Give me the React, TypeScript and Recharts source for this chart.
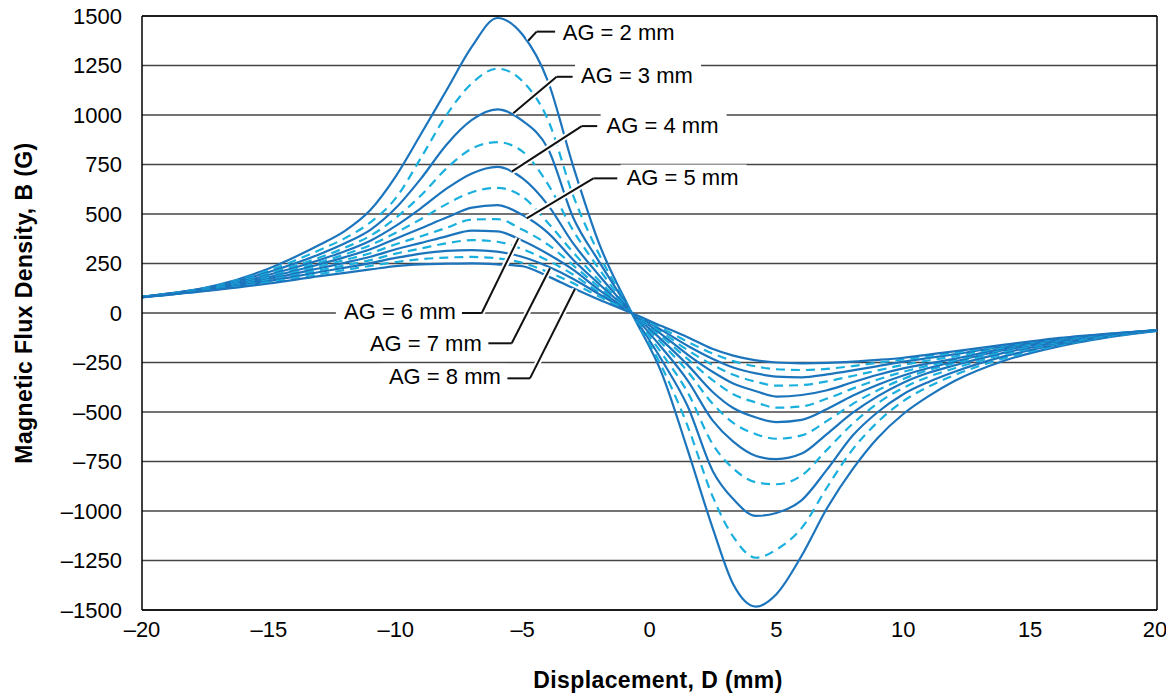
import { LineChart, Line, XAxis, YAxis, CartesianGrid, ReferenceLine, ReferenceDot } from "recharts";

// displacement samples (mm)
const displacement = [-20, -17, -15, -13, -12, -11, -10, -9, -8, -7, -6, -5, -4, -3, -2, -0.7, 0.5, 1.5, 2.5, 3.3, 4.2, 5, 6, 7, 8, 9, 10, 11, 12, 14, 16, 18, 20];

// flux density (G) for each air gap
const ag20 = [82, 142, 225, 345, 415, 520, 690, 905, 1125, 1345, 1490, 1405, 1170, 738, 355, 0, -310, -690, -1090, -1370, -1483, -1420, -1225, -985, -790, -630, -510, -420, -345, -240, -172, -124, -90];
const ag25 = [82, 140, 215, 318, 378, 458, 580, 785, 1000, 1160, 1234, 1170, 975, 590, 300, 0, -276, -570, -930, -1130, -1236, -1195, -1085, -880, -690, -550, -445, -372, -315, -228, -166, -121, -89];
const ag30 = [82, 138, 207, 297, 352, 420, 530, 680, 850, 975, 1028, 970, 830, 480, 262, 0, -241, -470, -800, -940, -1025, -1010, -945, -790, -620, -500, -410, -348, -298, -218, -161, -119, -89];
const ag35 = [81, 136, 200, 280, 330, 390, 480, 595, 730, 830, 863, 815, 650, 415, 225, 0, -207, -400, -665, -785, -855, -865, -820, -690, -560, -455, -378, -322, -280, -208, -156, -117, -88];
const ag40 = [81, 134, 193, 268, 312, 365, 440, 530, 628, 705, 738, 680, 545, 350, 192, 0, -178, -340, -545, -650, -722, -738, -710, -610, -505, -420, -352, -302, -265, -200, -152, -115, -88];
const ag45 = [81, 132, 187, 256, 296, 343, 405, 475, 550, 610, 632, 587, 455, 305, 165, 0, -155, -295, -460, -555, -612, -635, -618, -545, -460, -390, -333, -288, -254, -193, -148, -114, -88];
const ag50 = [81, 130, 181, 246, 282, 322, 375, 428, 482, 532, 545, 495, 405, 268, 148, 0, -138, -262, -400, -480, -528, -551, -540, -485, -418, -362, -316, -278, -246, -187, -145, -112, -88];
const ag55 = [80, 128, 176, 236, 268, 302, 347, 388, 430, 472, 474, 420, 345, 240, 132, 0, -122, -232, -340, -410, -452, -478, -472, -432, -382, -336, -297, -266, -238, -182, -141, -111, -87];
const ag60 = [80, 126, 171, 226, 254, 284, 322, 354, 387, 416, 412, 365, 298, 218, 118, 0, -110, -210, -298, -356, -395, -422, -414, -390, -350, -312, -280, -255, -232, -177, -139, -110, -87];
const ag65 = [80, 124, 166, 216, 241, 267, 300, 326, 352, 368, 360, 322, 265, 193, 105, 0, -98, -187, -263, -312, -347, -367, -364, -345, -318, -290, -262, -240, -220, -172, -136, -109, -87];
const ag70 = [80, 122, 161, 207, 229, 252, 278, 300, 314, 318, 310, 283, 235, 172, 96, 0, -88, -165, -232, -275, -305, -321, -325, -310, -290, -268, -246, -227, -209, -168, -133, -108, -87];
const ag75 = [80, 120, 155, 197, 217, 238, 257, 272, 280, 283, 276, 253, 207, 150, 84, 0, -78, -145, -205, -243, -270, -284, -288, -282, -268, -251, -235, -218, -201, -164, -131, -107, -86];
const ag80 = [79, 118, 149, 186, 203, 220, 237, 246, 249, 251, 246, 236, 185, 125, 68, 0, -67, -122, -182, -215, -239, -250, -254, -252, -246, -237, -226, -210, -194, -160, -128, -105, -86];

const xTicks = [-20, -15, -10, -5, 0, 5, 10, 15, 20];
const yTicks = [-1500, -1250, -1000, -750, -500, -250, 0, 250, 500, 750, 1000, 1250, 1500];

const SOLID = "#1c75bc";
const DASHED = "#1ab0de";
const FONT = "'Liberation Sans', Arial, sans-serif";

const series = [
  { key: "ag20", values: ag20, dashed: false },
  { key: "ag25", values: ag25, dashed: true },
  { key: "ag30", values: ag30, dashed: false },
  { key: "ag35", values: ag35, dashed: true },
  { key: "ag40", values: ag40, dashed: false },
  { key: "ag45", values: ag45, dashed: true },
  { key: "ag50", values: ag50, dashed: false },
  { key: "ag55", values: ag55, dashed: true },
  { key: "ag60", values: ag60, dashed: false },
  { key: "ag65", values: ag65, dashed: true },
  { key: "ag70", values: ag70, dashed: false },
  { key: "ag75", values: ag75, dashed: true },
  { key: "ag80", values: ag80, dashed: false },
];

const data = displacement.map((d, i) => {
  const row: Record<string, number> = { d };
  series.forEach((s) => (row[s.key] = s.values[i]));
  return row;
});

// callouts: text anchor + leader polyline, in data units
const callouts = [
  { text: "AG = 2 mm", x: -3.42, y: 1419, anchor: "start", leader: [[-4.78, 1375], [-4.45, 1421], [-3.72, 1421]] },
  { text: "AG = 3 mm", x: -2.7, y: 1199, anchor: "start", leader: [[-5.37, 1009], [-3.66, 1193], [-3.03, 1193]] },
  { text: "AG = 4 mm", x: -1.69, y: 946, anchor: "start", leader: [[-5.43, 714], [-2.67, 944], [-2.06, 944]] },
  { text: "AG = 5 mm", x: -0.9, y: 684, anchor: "start", leader: [[-4.84, 478], [-2.21, 680], [-1.27, 680]] },
  { text: "AG = 6 mm", x: -7.63, y: 7, anchor: "end", leader: [[-5.17, 377], [-6.61, 0], [-7.4, 0]] },
  { text: "AG = 7 mm", x: -6.61, y: -152, anchor: "end", leader: [[-3.92, 226], [-5.43, -153], [-6.35, -153]] },
  { text: "AG = 8 mm", x: -5.86, y: -322, anchor: "end", leader: [[-2.94, 121], [-4.71, -330], [-5.6, -330]] },
];

const fmt = (v: number) => (v < 0 ? `\u2013${Math.abs(v)}` : `${v}`);

const calloutShape = (text: string, anchor: string) => (p: any) => {
  const w = 126;
  const left = anchor === "start" ? p.cx - 6 : p.cx - w + 6;
  return (
    <g>
      <rect x={left} y={p.cy - 13} width={w} height={26} fill="#fff" />
      <text x={p.cx} y={p.cy} textAnchor={anchor} dominantBaseline="central" fontSize={22} fontFamily={FONT} fill="#000">
        {text}
      </text>
    </g>
  );
};

export default function App() {
  return (
    <div style={{ position: "fixed", left: 0, top: 0, width: 1166, height: 698, background: "#fff", fontFamily: FONT }}>
      <LineChart width={1166} height={698} data={data} margin={{ top: 16, right: 9, left: 0, bottom: 0 }}>
        <CartesianGrid vertical={false} stroke="#444" strokeWidth={1.3} />
        <XAxis
          dataKey="d"
          type="number"
          domain={[-20, 20]}
          ticks={xTicks}
          tickFormatter={fmt}
          height={88}
          tickSize={0}
          tickMargin={11}
          tickLine={false}
          axisLine={{ stroke: "#000", strokeWidth: 1.5 }}
          tick={{ fontSize: 22, fill: "#000", fontFamily: FONT }}
        />
        <YAxis
          type="number"
          domain={[-1500, 1500]}
          ticks={yTicks}
          tickFormatter={fmt}
          width={142}
          tickSize={0}
          tickMargin={20}
          tickLine={false}
          axisLine={{ stroke: "#000", strokeWidth: 1.5 }}
          tick={{ fontSize: 22, fill: "#000", fontFamily: FONT }}
          interval={0}
        />
        <ReferenceLine x={20} stroke="#000" strokeWidth={1.5} />
        <ReferenceLine y={1500} stroke="#000" strokeWidth={1.3} />
        {series.map((s) => (
          <Line
            key={s.key}
            dataKey={s.key}
            type="monotone"
            stroke={s.dashed ? DASHED : SOLID}
            strokeWidth={2.2}
            strokeDasharray={s.dashed ? "9 6" : undefined}
            dot={false}
            activeDot={false}
            isAnimationActive={false}
          />
        ))}
        {callouts.map((c, i) => (
          <ReferenceDot key={`t${i}`} x={c.x} y={c.y} r={0} shape={calloutShape(c.text, c.anchor)} />
        ))}
        {callouts.flatMap((c, i) =>
          [0, 1].map((j) => (
            <ReferenceLine
              key={`h${i}-${j}`}
              segment={[{ x: c.leader[j][0], y: c.leader[j][1] }, { x: c.leader[j + 1][0], y: c.leader[j + 1][1] }]}
              stroke="#fff"
              strokeWidth={6}
            />
          ))
        )}
        {callouts.flatMap((c, i) =>
          [0, 1].map((j) => (
            <ReferenceLine
              key={`l${i}-${j}`}
              segment={[{ x: c.leader[j][0], y: c.leader[j][1] }, { x: c.leader[j + 1][0], y: c.leader[j + 1][1] }]}
              stroke="#111"
              strokeWidth={2}
            />
          ))
        )}
      </LineChart>
      <div
        style={{
          position: "absolute",
          left: 24,
          top: 303,
          transform: "translate(-50%, -50%) rotate(-90deg)",
          whiteSpace: "nowrap",
          fontWeight: "bold",
          fontSize: 23,
          letterSpacing: 0.4,
        }}
      >
        Magnetic Flux Density, B (G)
      </div>
      <div
        style={{
          position: "absolute",
          left: 658,
          top: 680,
          transform: "translate(-50%, -50%)",
          whiteSpace: "nowrap",
          fontWeight: "bold",
          fontSize: 23,
          letterSpacing: 0.4,
        }}
      >
        Displacement, D (mm)
      </div>
    </div>
  );
}
